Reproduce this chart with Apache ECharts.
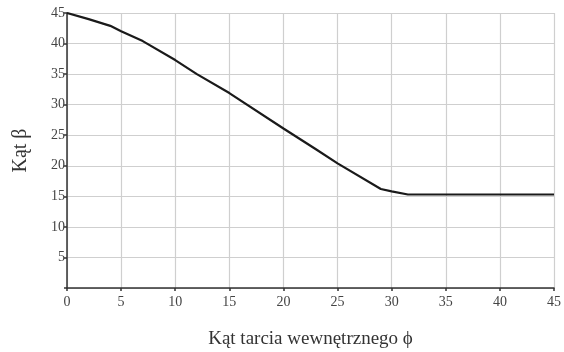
<!DOCTYPE html>
<html>
<head>
<meta charset="utf-8">
<script src="https://cdn.jsdelivr.net/npm/echarts@6/dist/echarts.min.js"></script>
<style>html,body{margin:0;padding:0;background:#fff}#c{width:564px;height:352px}</style>
</head>
<body>
<div id="c"></div>
<script>
var phi = [0, 2, 4, 5, 7, 10, 12, 15, 20, 23, 25, 29, 30, 31.5, 35, 40, 45];
var beta = [45, 44, 42.9, 42, 40.4, 37.3, 35, 31.9, 26.1, 22.7, 20.4, 16.2, 15.8, 15.3, 15.3, 15.3, 15.3];
var xTicks = [0, 5, 10, 15, 20, 25, 30, 35, 40, 45];
var yTicks = [5, 10, 15, 20, 25, 30, 35, 40, 45];
var xName = 'Kąt tarcia wewnętrznego ϕ';
var yName = 'Kąt β';

var pts = phi.map(function (x, i) { return [x, beta[i]]; });
var font = 'Liberation Serif';
var chart = echarts.init(document.getElementById('c'));
chart.setOption({
  animation: false,
  backgroundColor: '#fff',
  grid: { left: 67, right: 10, top: 13, bottom: 64, containLabel: false, outerBoundsMode: 'none' },
  xAxis: {
    type: 'value', min: 0, max: 45, interval: 5,
    name: xName, nameLocation: 'middle', nameGap: 42,
    nameTextStyle: { fontFamily: font, fontSize: 19, color: '#333' },
    axisLine: { show: true, onZero: false, lineStyle: { color: '#333', width: 1.5 } },
    axisTick: { show: true, length: 3, lineStyle: { color: '#333', width: 1.5 } },
    axisLabel: { fontFamily: font, fontSize: 14, color: '#444', margin: 7,
      formatter: function (v) { return xTicks.indexOf(v) >= 0 ? String(v) : ''; } },
    splitLine: { show: true, lineStyle: { color: '#cfcfcf', width: 1.2 } }
  },
  yAxis: {
    type: 'value', min: 0, max: 45, interval: 5,
    name: yName, nameLocation: 'middle', nameGap: 36, nameRotate: 90,
    nameTextStyle: { fontFamily: font, fontSize: 20, color: '#333' },
    axisLine: { show: true, onZero: false, lineStyle: { color: '#333', width: 1.5 } },
    axisTick: { show: true, length: 3, lineStyle: { color: '#333', width: 1.5 } },
    axisLabel: { fontFamily: font, fontSize: 14, color: '#444', margin: 2,
      formatter: function (v) { return yTicks.indexOf(v) >= 0 ? String(v) : ''; } },
    splitLine: { show: true, lineStyle: { color: '#cfcfcf', width: 1.2 } }
  },
  series: [{
    type: 'line', data: pts, showSymbol: false, smooth: false,
    lineStyle: { color: '#1a1a1a', width: 2.2 }
  }]
});
</script>
</body>
</html>
